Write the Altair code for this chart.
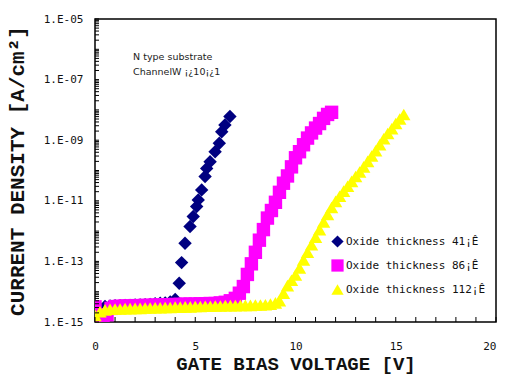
import altair as alt
import pandas as pd

# ---------------- data ----------------
series_names = ["Oxide thickness 41¡Ê", "Oxide thickness 86¡Ê", "Oxide thickness 112¡Ê"]
series_colors = ["#000080", "#FF00FF", "#FFFF00"]
series_shapes = ["diamond", "square", "triangle-up"]

# 41 A oxide (navy diamonds): gate voltage [V] and log10(J)
v41 = [0.0, 0.25, 0.5, 0.75, 1.0, 1.25, 1.5, 1.75, 2.0, 2.25, 2.5, 2.75, 3.0, 3.25, 3.5, 3.75, 4.0,
       4.2, 4.32, 4.49, 4.74, 4.9, 5.07, 5.15, 5.32, 5.49, 5.57, 5.74, 5.99, 6.2, 6.32, 6.48, 6.73]
logj41 = [-14.62, -14.55, -14.49, -14.47, -14.46, -14.46, -14.45, -14.45, -14.44, -14.44, -14.43, -14.42,
          -14.40, -14.38, -14.37, -14.34, -14.26,
          -13.72, -13.04, -12.40, -11.85, -11.52, -11.19, -10.97, -10.64, -10.20, -9.93, -9.71, -9.38,
          -9.10, -8.72, -8.50, -8.22]

# 86 A oxide (magenta squares)
v86 = [0.0, 0.2, 0.4, 0.6, 0.8, 1.0, 1.25, 1.5, 1.75, 2.0, 2.25, 2.5, 2.75, 3.0, 3.25, 3.5, 3.75, 4.0,
       4.25, 4.5, 4.75, 5.0, 5.25, 5.5, 5.75, 6.0, 6.25, 6.5, 6.75, 7.0, 7.2, 7.4, 7.6, 7.8, 8.0, 8.2,
       8.4, 8.6, 8.8, 9.0, 9.2, 9.4, 9.6, 9.8, 10.0, 10.2, 10.4, 10.6, 10.8, 11.0, 11.2, 11.4, 11.6, 11.8]
logj86 = [-14.50, -14.78, -14.78, -14.76, -14.55, -14.49, -14.48, -14.47, -14.47, -14.46, -14.46, -14.45,
          -14.45, -14.44, -14.44, -14.43, -14.43, -14.42, -14.42, -14.41, -14.41, -14.41, -14.40, -14.40,
          -14.39, -14.39, -14.37, -14.35, -14.30, -14.22, -14.05, -13.83, -13.43, -13.08, -12.70, -12.30,
          -11.95, -11.57, -11.32, -11.05, -10.72, -10.42, -10.18, -9.88, -9.58, -9.38, -9.15, -8.93,
          -8.76, -8.60, -8.45, -8.28, -8.15, -8.08]

# 112 A oxide (yellow triangles)
v112 = [0.0, 0.25, 0.5, 0.75, 1.0, 1.25, 1.5, 1.75, 2.0, 2.25, 2.5, 2.75, 3.0, 3.25, 3.5, 3.75, 4.0,
        4.25, 4.5, 4.75, 5.0, 5.25, 5.5, 5.75, 6.0, 6.25, 6.5, 6.75, 7.0, 7.25, 7.5, 7.75, 8.0, 8.25,
        8.5, 8.75, 9.0, 9.2, 9.4, 9.6, 9.8, 10.0, 10.2, 10.4, 10.6, 10.8, 11.0, 11.2, 11.4, 11.6, 11.8,
        12.0, 12.2, 12.4, 12.6, 12.8, 13.0, 13.2, 13.4, 13.6, 13.8, 14.0, 14.2, 14.4, 14.6, 14.8, 15.0,
        15.2, 15.4]
logj112 = [-14.78, -14.66, -14.60, -14.58, -14.57, -14.57, -14.56, -14.56, -14.55, -14.55, -14.54, -14.54,
           -14.53, -14.53, -14.52, -14.52, -14.51, -14.51, -14.50, -14.50, -14.49, -14.49, -14.48, -14.48,
           -14.47, -14.47, -14.46, -14.46, -14.46, -14.45, -14.45, -14.45, -14.44, -14.44, -14.43, -14.41,
           -14.37, -14.30, -14.05, -13.80, -13.62, -13.45, -13.22, -12.95, -12.70, -12.45, -12.20, -11.95,
           -11.70, -11.45, -11.22, -11.02, -10.85, -10.68, -10.52, -10.36, -10.20, -10.05, -9.88, -9.70,
           -9.52, -9.35, -9.15, -8.95, -8.78, -8.62, -8.45, -8.30, -8.15]

# axis ticks / labels
y_label_values = [1e-15, 1e-13, 1e-11, 1e-9, 1e-7, 1e-5]
y_tick_exponents = list(range(-15, -5))
y_tick_multipliers = [1, 2, 3, 4, 5, 6, 7, 8, 9]
x_label_values = [0, 5, 10, 15, 20]
x_tick_values = list(range(0, 21))

# annotation text (position in data units)
note_text = ["N type substrate", "ChannelW ¡¿10¡¿1"]
note_v = [1.9, 1.9]
note_j = [5.6e-7, 1.8e-7]

# ---------------- tables ----------------
rows = []
for k, (vs, ls) in enumerate([(v41, logj41), (v86, logj86), (v112, logj112)]):
    for v, l in zip(vs, ls):
        rows.append({"V": v, "J": 10.0 ** l, "series": series_names[k], "k": k})
df = pd.DataFrame(rows)

ytick_df = pd.DataFrame({"J": [m * 10.0 ** e for e in y_tick_exponents for m in y_tick_multipliers] + [1e-5]})
xtick_df = pd.DataFrame({"V": x_tick_values})
note_df = pd.DataFrame({"V": note_v, "J": note_j, "t": note_text})

W, H = 401, 303
xscale = alt.Scale(domain=[0, 20], nice=False)
yscale = alt.Scale(type="log", domain=[1e-15, 1e-5], nice=False)

label_font = "DejaVu Sans Mono"
title_font = "Liberation Mono"

x_axis = alt.Axis(values=x_label_values, title="GATE BIAS VOLTAGE [V]", tickSize=0, domain=False,
                  grid=False, labelPadding=18, labelFlush=False, labelFont=label_font, labelFontSize=11,
                  labelAlign=alt.ExprRef(expr="datum.value >= 20 ? 'right' : 'center'"),
                  labelColor="#111", titleFont=title_font, titleFontSize=19, titleFontWeight="bold",
                  titleColor="#111", titlePadding=3)
y_axis = alt.Axis(values=y_label_values, title="CURRENT DENSITY [A/cm²]", tickSize=0, domain=False,
                  grid=False, labelPadding=12, labelFlush=False, labelFont=label_font, labelFontSize=11,
                  labelColor="#111",
                  labelExpr="'1.E-' + (round(-log(datum.value)/LN10) < 10 ? '0' : '') + round(-log(datum.value)/LN10)",
                  titleFont=title_font, titleFontSize=21, titleFontWeight="bold", titleColor="#111",
                  titlePadding=16)

points = alt.Chart(df).mark_point(filled=True, opacity=1, size=180, strokeWidth=0, clip=True).encode(
    x=alt.X("V:Q", scale=xscale, axis=x_axis),
    y=alt.Y("J:Q", scale=yscale, axis=y_axis),
    color=alt.Color("series:N", scale=alt.Scale(domain=series_names, range=series_colors),
                    legend=alt.Legend(title=None, orient="none", legendX=236, legendY=216,
                                      labelFont=label_font, labelFontSize=11, labelColor="#111",
                                      symbolSize=150, symbolStrokeWidth=0, rowPadding=11,
                                      labelOffset=2, padding=0, symbolOpacity=1)),
    shape=alt.Shape("series:N", scale=alt.Scale(domain=series_names, range=series_shapes)),
    order=alt.Order("k:Q"),
)

yticks = alt.Chart(ytick_df).mark_rule(color="#000", strokeWidth=1).encode(
    y=alt.Y("J:Q", scale=yscale, axis=y_axis),
    x=alt.value(0), x2=alt.value(4),
)
xticks = alt.Chart(xtick_df).mark_rule(color="#000", strokeWidth=1).encode(
    x=alt.X("V:Q", scale=xscale, axis=x_axis),
    y=alt.value(H), y2=alt.value(H - 5),
)
notes = alt.Chart(note_df).mark_text(align="left", baseline="middle", font="DejaVu Sans",
                                     fontSize=9.5, color="#222").encode(
    x=alt.X("V:Q", scale=xscale, axis=x_axis),
    y=alt.Y("J:Q", scale=yscale, axis=y_axis),
    text="t:N",
)

chart = alt.layer(points, yticks, xticks, notes).properties(
    width=W, height=H,
    autosize=alt.AutoSizeParams(type="none"),
    padding={"left": 87, "top": 11, "right": 1, "bottom": 53},
    background="white",
).configure_view(stroke="#000", strokeWidth=1.5)

chart.save("out.html", embed_options={"renderer": "svg", "actions": False})
